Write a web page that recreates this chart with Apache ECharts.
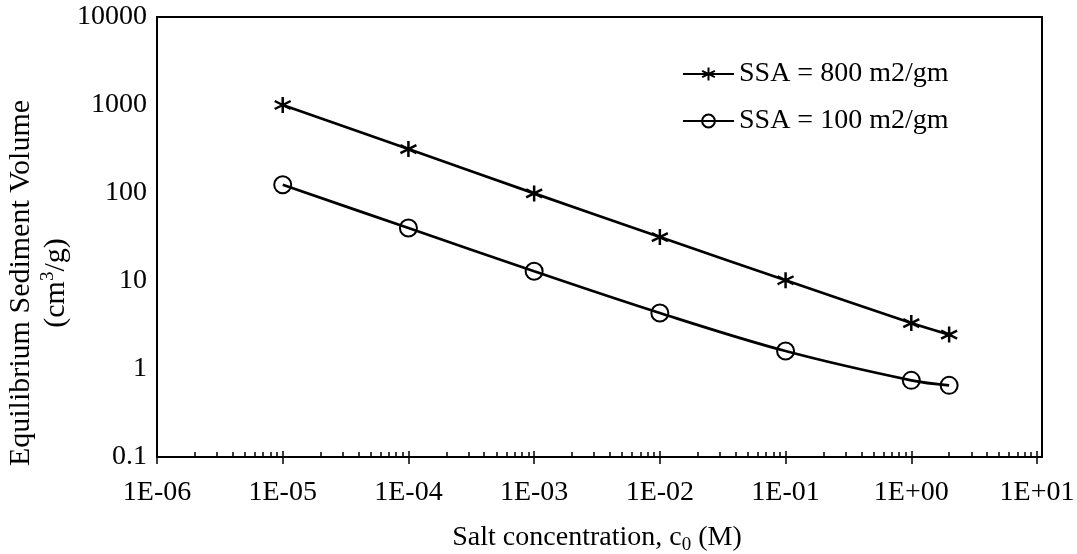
<!DOCTYPE html>
<html>
<head>
<meta charset="utf-8">
<script src="https://cdn.jsdelivr.net/npm/echarts@6/dist/echarts.min.js"></script>
<style>
html,body{margin:0;padding:0;background:#fff;}
#chart{width:1077px;height:554px;}
</style>
</head>
<body>
<div id="chart"></div>
<script>
// Salt concentration (M)
const concentrations = [1e-5, 1e-4, 1e-3, 1e-2, 1e-1, 1, 2];
// Equilibrium sediment volume (cm3/g)
const ssa800 = [1000, 316, 99, 31.6, 10.2, 3.33, 2.46];
const ssa100 = [124, 40, 12.9, 4.33, 1.6, 0.743, 0.652];
const seriesNames = ['SSA = 800 m2/gm', 'SSA = 100 m2/gm'];
const xTickLabels = ['1E-06', '1E-05', '1E-04', '1E-03', '1E-02', '1E-01', '1E+00', '1E+01'];
const yTickLabels = ['0.1', '1', '10', '100', '1000', '10000'];

const FONT = 'Liberation Serif';
const FS = 28;
const NFS = 30;

const chart = echarts.init(document.getElementById('chart'), null, {renderer: 'canvas'});

function pair(xs, ys) { return xs.map((x, i) => [x, ys[i]]); }

const starPath = 'path://M7,0L7,14M1,3.5L13,10.5M1,10.5L13,3.5';

const option = {
  backgroundColor: '#fff',
  animation: false,
  textStyle: {fontFamily: FONT, color: '#000'},
  grid: {left: 157, right: 40, top: 17, bottom: 97, containLabel: false, outerBoundsMode: 'none'},
  legend: {
    orient: 'vertical',
    left: 677,
    top: 55,
    itemWidth: 51,
    itemHeight: 16,
    itemGap: 19,
    textStyle: {fontFamily: FONT, fontSize: FS, color: '#000'},
    data: seriesNames
  },
  xAxis: [{
    type: 'log',
    logBase: 10,
    min: 1e-6,
    max: 10,
    name: '{a|Salt concentration, c}{sub|0}{a| (M)}',
    nameLocation: 'middle',
    nameGap: 64,
    nameMoveOverlap: false,
    nameTextStyle: {
      fontFamily: FONT, fontSize: FS, color: '#000',
      rich: {
        a: {fontFamily: FONT, fontSize: FS, color: '#000', lineHeight: 34},
        sub: {fontFamily: FONT, fontSize: 19, color: '#000', lineHeight: 17, verticalAlign: 'bottom'}
      }
    },
    axisLine: {show: true, onZero: false, lineStyle: {color: '#000', width: 2}},
    axisTick: {show: true, inside: true, length: 6, lineStyle: {color: '#000', width: 1.5}},
    minorTick: {show: true, splitNumber: 9, length: 5, lineStyle: {color: '#000', width: 1.5}},
    splitLine: {show: false},
    minorSplitLine: {show: false},
    axisLabel: {
      fontFamily: FONT, fontSize: FS, color: '#000', margin: 22,
      formatter: function (v) {
        const e = Math.round(Math.log10(v));
        return xTickLabels[e + 6];
      }
    }
  }, {
    type: 'log',
    logBase: 10,
    min: 1e-6,
    max: 10,
    position: 'bottom',
    axisLine: {show: false},
    axisTick: {show: true, inside: false, length: 7, lineStyle: {color: '#000', width: 1.5}},
    axisLabel: {show: false},
    splitLine: {show: false}
  }],
  yAxis: {
    type: 'log',
    logBase: 10,
    min: 0.1,
    max: 10000,
    name: '{a|Equilibrium Sediment Volume}\n{a|(cm}{sup|3}{a|/g)}',
    nameLocation: 'middle',
    nameRotate: 90,
    nameGap: 83,
    nameMoveOverlap: false,
    nameTextStyle: {
      fontFamily: FONT, fontSize: NFS, color: '#000', align: 'center',
      padding: [0, 92, 0, 0],
      rich: {
        a: {fontFamily: FONT, fontSize: NFS, color: '#000', lineHeight: 35, align: 'center'},
        sup: {fontFamily: FONT, fontSize: 19, color: '#000', lineHeight: 20, verticalAlign: 'top'}
      }
    },
    axisLine: {show: true, onZero: false, lineStyle: {color: '#000', width: 2}},
    axisTick: {show: false},
    splitLine: {show: false},
    axisLabel: {
      fontFamily: FONT, fontSize: FS, color: '#000', margin: 10,
      formatter: function (v) {
        const e = Math.round(Math.log10(v));
        return yTickLabels[e + 1];
      }
    }
  },
  graphic: [{
    type: 'rect',
    shape: {x: 157, y: 17, width: 885, height: 440},
    style: {fill: 'none', stroke: '#000', lineWidth: 2},
    silent: true,
    z: 0
  }],
  series: [{
    name: seriesNames[0],
    type: 'line',
    data: pair(concentrations, ssa800),
    smooth: 0.35,
    symbol: starPath,
    symbolSize: 16,
    lineStyle: {color: '#000', width: 2.75},
    itemStyle: {color: '#000', borderColor: '#000', borderWidth: 2.5}
  }, {
    name: seriesNames[1],
    type: 'line',
    data: pair(concentrations, ssa100),
    smooth: 0.35,
    symbol: 'circle',
    symbolSize: 17,
    lineStyle: {color: '#000', width: 2.75},
    itemStyle: {color: 'rgba(0,0,0,0)', borderColor: '#000', borderWidth: 2}
  }]
};
chart.setOption(option);
</script>
</body>
</html>
